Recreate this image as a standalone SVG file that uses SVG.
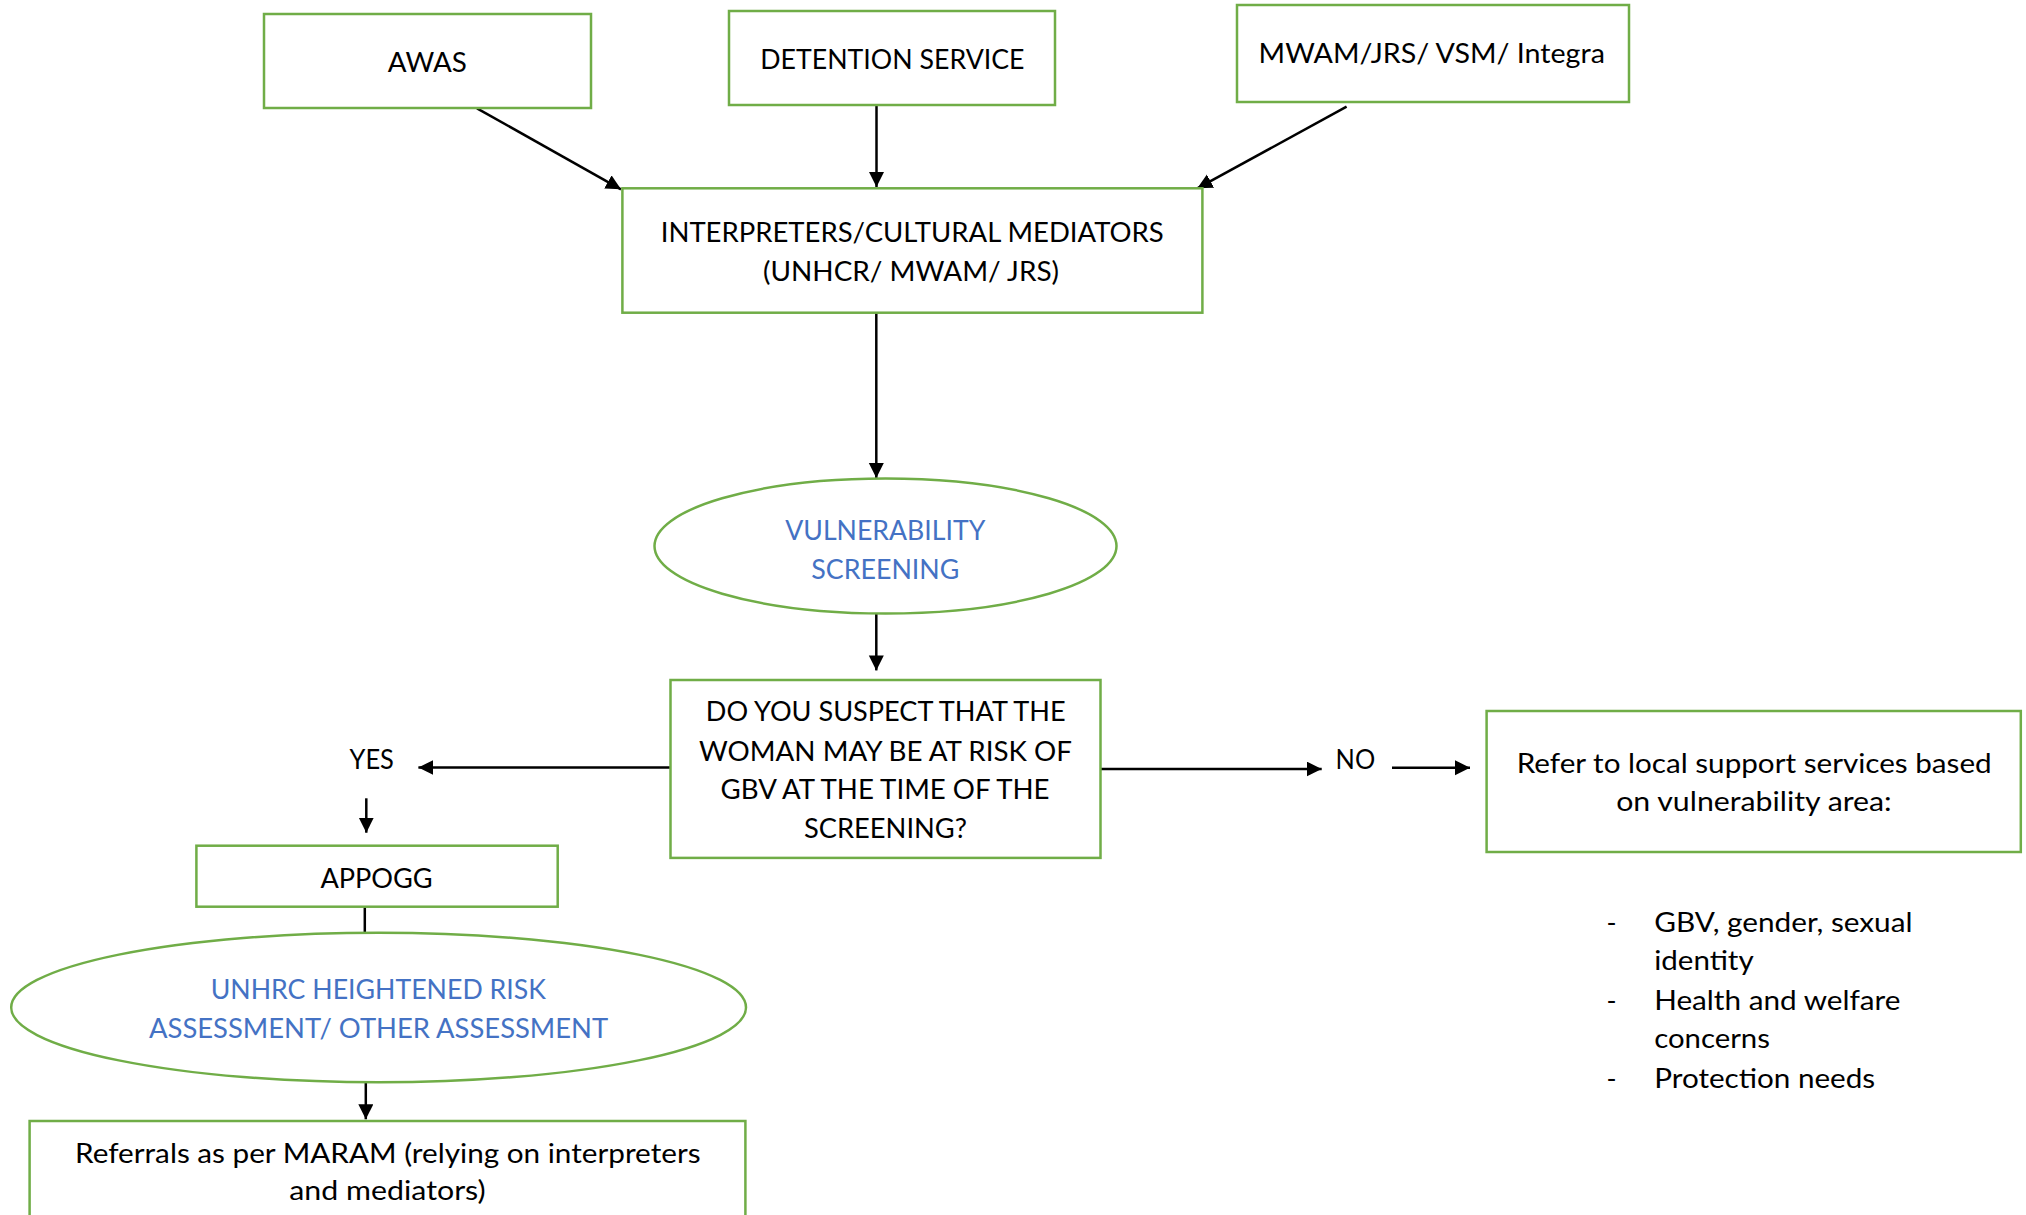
<svg xmlns="http://www.w3.org/2000/svg" width="2026" height="1215" viewBox="0 0 2026 1215">
<style>
.box{fill:#fff;stroke:#70AD47;stroke-width:2.5}
.t{font-family:Lato,"Liberation Sans",sans-serif;font-size:27px;fill:#000}
.b{fill:#4472C4}
.c{stroke:#000;stroke-width:2.5;fill:none}
</style>
<defs>
<marker id="ah" markerUnits="userSpaceOnUse" markerWidth="16" markerHeight="16" refX="15" refY="7.5" orient="auto">
<path d="M0,0 L15,7.5 L0,15 z" fill="#000"/>
</marker>
</defs>
<rect width="2026" height="1215" fill="#fff"/>
<g id="connectors">
<line class="c" x1="477" y1="108.3" x2="621" y2="189.3" marker-end="url(#ah)"/>
<line class="c" x1="876.5" y1="105" x2="876.5" y2="187" marker-end="url(#ah)"/>
<line class="c" x1="1346.6" y1="106.7" x2="1197.3" y2="188.3" marker-end="url(#ah)"/>
<line class="c" x1="876.3" y1="313" x2="876.3" y2="478" marker-end="url(#ah)"/>
<line class="c" x1="876.3" y1="614" x2="876.3" y2="670.4" marker-end="url(#ah)"/>
<line class="c" x1="670.5" y1="767.5" x2="418.4" y2="767.5" marker-end="url(#ah)"/>
<line class="c" x1="366.3" y1="798.3" x2="366.3" y2="832.7" marker-end="url(#ah)"/>
<line class="c" x1="364.8" y1="906.7" x2="364.8" y2="932.7"/>
<line class="c" x1="365.8" y1="1082.3" x2="365.8" y2="1119.3" marker-end="url(#ah)"/>
<line class="c" x1="1100.4" y1="769" x2="1321.7" y2="769" marker-end="url(#ah)"/>
<line class="c" x1="1392" y1="767.7" x2="1470" y2="767.7" marker-end="url(#ah)"/>
</g>
<g id="awas">
<rect class="box" x="264" y="14" width="327" height="94"/>
<text class="t" x="387.8" y="72" textLength="79" lengthAdjust="spacingAndGlyphs">AWAS</text>
</g>
<g id="detention">
<rect class="box" x="729" y="11" width="326" height="94"/>
<text class="t" x="760.2" y="69.3" textLength="264.3" lengthAdjust="spacingAndGlyphs">DETENTION SERVICE</text>
</g>
<g id="mwam">
<rect class="box" x="1237" y="5" width="392" height="97"/>
<text class="t" x="1258.6" y="63.3" textLength="346.3" lengthAdjust="spacingAndGlyphs">MWAM/JRS/ VSM/ Integra</text>
</g>
<g id="interpreters">
<rect class="box" x="622.4" y="188.3" width="580" height="124.4"/>
<text class="t" x="660.7" y="241.7" textLength="503" lengthAdjust="spacingAndGlyphs">INTERPRETERS/CULTURAL MEDIATORS</text>
<text class="t" x="763" y="281" textLength="296" lengthAdjust="spacingAndGlyphs">(UNHCR/ MWAM/ JRS)</text>
</g>
<g id="vulnerability">
<ellipse class="box" cx="885.5" cy="546" rx="231" ry="67.5"/>
<text class="t b" x="785.3" y="540" textLength="200" lengthAdjust="spacingAndGlyphs">VULNERABILITY</text>
<text class="t b" x="811.2" y="578.6" textLength="148.2" lengthAdjust="spacingAndGlyphs">SCREENING</text>
</g>
<g id="question">
<rect class="box" x="670.5" y="680" width="430" height="177.9"/>
<text class="t" x="705.8" y="721.4" textLength="359.8" lengthAdjust="spacingAndGlyphs">DO YOU SUSPECT THAT THE</text>
<text class="t" x="699.1" y="760.7" textLength="372.8" lengthAdjust="spacingAndGlyphs">WOMAN MAY BE AT RISK OF</text>
<text class="t" x="720.5" y="799.3" textLength="329" lengthAdjust="spacingAndGlyphs">GBV AT THE TIME OF THE</text>
<text class="t" x="804" y="837.9" textLength="163" lengthAdjust="spacingAndGlyphs">SCREENING?</text>
</g>
<g id="yes">
<text class="t" x="349.5" y="769.3" textLength="44.4" lengthAdjust="spacingAndGlyphs">YES</text>
</g>
<g id="no">
<text class="t" x="1335.6" y="768.5" textLength="39.6" lengthAdjust="spacingAndGlyphs">NO</text>
</g>
<g id="refer">
<rect class="box" x="1486.6" y="711" width="534.2" height="141"/>
<text class="t" x="1516.7" y="773.3" textLength="475" lengthAdjust="spacingAndGlyphs">Refer to local support services based</text>
<text class="t" x="1616.2" y="811" textLength="275.5" lengthAdjust="spacingAndGlyphs">on vulnerability area:</text>
</g>
<g id="areas">
<text class="t" x="1606.5" y="931.7">-</text>
<text class="t" x="1654.2" y="931.7" textLength="258.3" lengthAdjust="spacingAndGlyphs">GBV, gender, sexual</text>
<text class="t" x="1654.2" y="970" textLength="99.5" lengthAdjust="spacingAndGlyphs">identity</text>
<text class="t" x="1606.5" y="1010">-</text>
<text class="t" x="1654.2" y="1010" textLength="246.3" lengthAdjust="spacingAndGlyphs">Health and welfare</text>
<text class="t" x="1654.2" y="1048.3" textLength="115.7" lengthAdjust="spacingAndGlyphs">concerns</text>
<text class="t" x="1606.5" y="1088.3">-</text>
<text class="t" x="1654.2" y="1088.3" textLength="221" lengthAdjust="spacingAndGlyphs">Protection needs</text>
</g>
<g id="appogg">
<rect class="box" x="196.4" y="845.7" width="361.3" height="61"/>
<text class="t" x="320.4" y="887.7" textLength="112.3" lengthAdjust="spacingAndGlyphs">APPOGG</text>
</g>
<g id="assessment">
<ellipse class="box" cx="378.6" cy="1007.5" rx="367.4" ry="74.8"/>
<text class="t b" x="210.7" y="999.3" textLength="335.2" lengthAdjust="spacingAndGlyphs">UNHRC HEIGHTENED RISK</text>
<text class="t b" x="149" y="1037.7" textLength="459.2" lengthAdjust="spacingAndGlyphs">ASSESSMENT/ OTHER ASSESSMENT</text>
</g>
<g id="referrals">
<rect class="box" x="29.6" y="1121" width="715.8" height="100"/>
<text class="t" x="75" y="1162.7" textLength="625.5" lengthAdjust="spacingAndGlyphs">Referrals as per MARAM (relying on interpreters</text>
<text class="t" x="289.3" y="1200" textLength="196.4" lengthAdjust="spacingAndGlyphs">and mediators)</text>
</g>
</svg>
